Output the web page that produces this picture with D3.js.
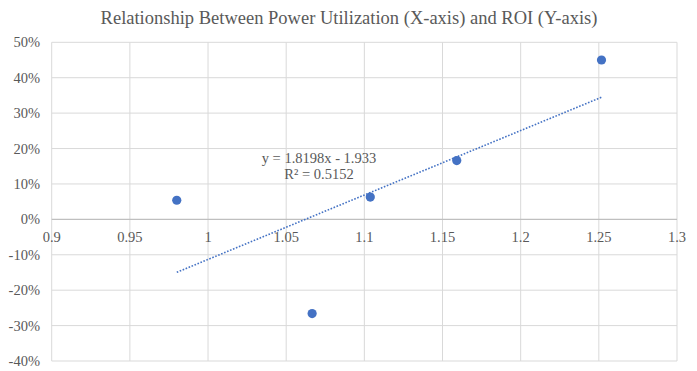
<!DOCTYPE html>
<html>
<head>
<meta charset="utf-8">
<script src="https://cdn.jsdelivr.net/npm/d3@7"></script>
<style>
  body { margin: 0; background: #fff; }
  svg { display: block; font-family: "Liberation Serif", "Times New Roman", serif; }
</style>
</head>
<body>
<div id="chart"></div>
<script>
// values
const powerUtil = [0.980, 1.0666, 1.1038, 1.1591, 1.2517];
const roi = [0.054, -0.266, 0.063, 0.166, 0.45];
const xTicks = [0.9, 0.95, 1, 1.05, 1.1, 1.15, 1.2, 1.25, 1.3];
const yTicks = [-0.4, -0.3, -0.2, -0.1, 0, 0.1, 0.2, 0.3, 0.4, 0.5];
const slope = 1.8198;
const intercept = -1.933;
const rSquared = 0.5152;

const width = 697, height = 371;
const margin = { top: 42.3, right: 20, bottom: 10, left: 51.7 };
const textColor = '#595959';
const blue = '#4472c4';

const svg = d3.select('#chart').append('svg')
  .attr('width', width)
  .attr('height', height);

const x = d3.scaleLinear().domain([0.9, 1.3]).range([margin.left, 677]);
const y = d3.scaleLinear().domain([-0.4, 0.5]).range([361, margin.top]);

svg.append('text')
  .attr('x', 349)
  .attr('y', 24)
  .attr('text-anchor', 'middle')
  .attr('font-size', '18.5px')
  .attr('fill', textColor)
  .text('Relationship Between Power Utilization (X-axis) and ROI (Y-axis)');

// gridlines
svg.append('g')
  .selectAll('line')
  .data(yTicks.filter(d => d !== 0))
  .enter().append('line')
  .attr('x1', x(0.9)).attr('x2', x(1.3))
  .attr('y1', d => y(d)).attr('y2', d => y(d))
  .attr('stroke', '#d9d9d9').attr('stroke-width', 1);

svg.append('g')
  .selectAll('line')
  .data(xTicks)
  .enter().append('line')
  .attr('x1', d => x(d)).attr('x2', d => x(d))
  .attr('y1', y(0.5)).attr('y2', y(-0.4))
  .attr('stroke', '#d9d9d9').attr('stroke-width', 1);

// horizontal axis at 0
svg.append('line')
  .attr('x1', x(0.9)).attr('x2', x(1.3))
  .attr('y1', y(0)).attr('y2', y(0))
  .attr('stroke', '#bfbfbf').attr('stroke-width', 1.3);

// y tick labels
svg.append('g')
  .selectAll('text')
  .data(yTicks)
  .enter().append('text')
  .attr('x', 40)
  .attr('y', d => y(d))
  .attr('dy', '0.35em')
  .attr('text-anchor', 'end')
  .attr('font-size', '14.5px')
  .attr('fill', textColor)
  .text(d => d3.format('.0%')(d).replace('−', '-'));

// x tick labels
svg.append('g')
  .selectAll('text')
  .data(xTicks)
  .enter().append('text')
  .attr('x', d => x(d))
  .attr('y', y(0) + 18)
  .attr('dy', '0.35em')
  .attr('text-anchor', 'middle')
  .attr('font-size', '14.5px')
  .attr('fill', textColor)
  .text(d => String(d));

// trendline over the data range
const xMin = d3.min(powerUtil), xMax = d3.max(powerUtil);
svg.append('line')
  .attr('x1', x(xMin)).attr('y1', y(slope * xMin + intercept))
  .attr('x2', x(xMax)).attr('y2', y(slope * xMax + intercept))
  .attr('stroke', blue)
  .attr('stroke-width', 1.6)
  .attr('stroke-dasharray', '1.6,1.6');

// points
svg.append('g')
  .selectAll('circle')
  .data(powerUtil.map((d, i) => [d, roi[i]]))
  .enter().append('circle')
  .attr('cx', d => x(d[0]))
  .attr('cy', d => y(d[1]))
  .attr('r', 4.6)
  .attr('fill', blue);

// equation label
const eq = svg.append('text')
  .attr('text-anchor', 'middle')
  .attr('font-size', '14.5px')
  .attr('fill', textColor);
eq.append('tspan').attr('x', 319).attr('y', 162.5)
  .text(`y = ${slope}x - ${Math.abs(intercept)}`);
eq.append('tspan').attr('x', 319).attr('y', 179)
  .text(`R² = ${rSquared}`);
</script>
</body>
</html>
